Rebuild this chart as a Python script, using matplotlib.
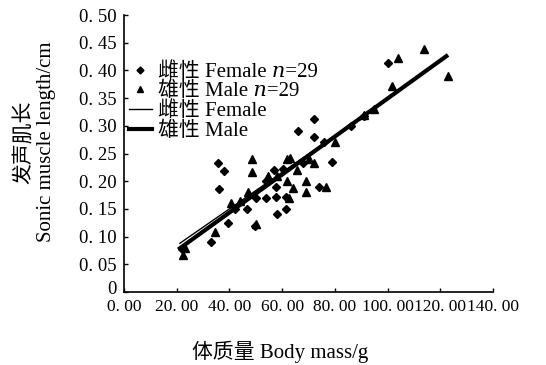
import matplotlib
matplotlib.use('Agg')
from matplotlib import pyplot as plt
from matplotlib.transforms import ScaledTranslation
import numpy as np

plt.rcParams['font.family'] = ['Liberation Serif', 'Noto Sans CJK SC', 'DejaVu Serif']

# body mass (g) and sonic muscle length (cm), females
female_mass = [100, 72, 66, 72, 75.8, 91, 79, 57, 60.2, 68,
               57.6, 57.6, 61.4, 61.4, 58, 74, 35.6, 38, 36, 54,
               54, 46.5, 39.4, 49.6, 33, 22, 42, 50, 86]
female_len = [0.413, 0.312, 0.290, 0.280, 0.270, 0.318, 0.235, 0.220, 0.222, 0.233,
              0.190, 0.171, 0.171, 0.150, 0.141, 0.190, 0.233, 0.218, 0.186, 0.200,
              0.170, 0.150, 0.125, 0.119, 0.090, 0.078, 0.150, 0.170, 0.300]

# males
male_mass = [114, 104, 123, 101.5, 48.5, 48.5, 54.5, 61.7, 65.5, 72,
             62, 64, 69, 69, 76.5, 62.5, 47, 40.5, 34.5, 22.3,
             50, 91, 63, 58, 44, 70, 80, 23, 95]
male_len = [0.438, 0.422, 0.390, 0.372, 0.240, 0.217, 0.210, 0.240, 0.220, 0.233,
            0.200, 0.188, 0.200, 0.180, 0.190, 0.170, 0.180, 0.160, 0.108, 0.067,
            0.122, 0.320, 0.241, 0.210, 0.165, 0.240, 0.270, 0.080, 0.330]

# linear fits: (slope, intercept) and mass range covered
female_fit = (0.0033, 0.018)
female_span = (21.2, 99.6)
male_fit = (0.00343, 0.0062)
male_span = (21.2, 122.3)

x_ticks = [0, 20, 40, 60, 80, 100, 120, 140]
y_ticks = [0, 0.05, 0.10, 0.15, 0.20, 0.25, 0.30, 0.35, 0.40, 0.45, 0.50]

W, H = 546, 365
fig = plt.figure(figsize=(W / 100, H / 100), dpi=100)
ax = fig.add_axes([124 / W, 73 / H, 369 / W, 277 / H])

ax.plot(female_mass, female_len, ls='none', marker='D', color='k', markersize=4.4,
        label='雌性 Female \U0001D45B=29')
ax.plot(male_mass, male_len, ls='none', marker='^', color='k', markersize=5.2,
        label='雄性 Male \U0001D45B=29')

xf = np.array(female_span)
ax.plot(xf, female_fit[0] * xf + female_fit[1], color='k', lw=1.0, label='雌性 Female')
xm = np.array(male_span)
ax.plot(xm, male_fit[0] * xm + male_fit[1], color='k', lw=3.0, label='雄性 Male')

ax.set_xlim(0, 140)
ax.set_ylim(0, 0.5)
ax.set_xticks(x_ticks)
ax.set_xticklabels([f'{v:.2f}'.replace('.', '. ') for v in x_ticks])
ax.set_yticks(y_ticks)
ax.set_yticklabels(['0'] + [f'{v:.2f}'.replace('.', '. ') for v in y_ticks[1:]])
ax.tick_params(direction='in', length=3, width=1, labelsize=12.5)
ax.tick_params(axis='x', pad=5)
ax.tick_params(axis='y', pad=5, labelsize=13.5)
for s in ['top', 'right']:
    ax.spines[s].set_visible(False)
for s in ['left', 'bottom']:
    ax.spines[s].set_linewidth(1.2)

# lift the "0" on the y axis so it sits above the x tick labels
zero = ax.get_yticklabels()[0]
zero.set_transform(zero.get_transform() + ScaledTranslation(0, 5 / 100, fig.dpi_scale_trans))

fig.text(280 / W, 1 - 352 / H, '体质量 Body mass/g', ha='center', va='center', fontsize=15)
fig.text(25 / W, 1 - 142 / H, '发声肌长', rotation=90, ha='center', va='center', fontsize=15)
fig.text(47 / W, 1 - 142 / H, 'Sonic muscle length/cm', rotation=90, ha='center', va='center',
         fontsize=15)

ax.legend(loc='upper left', bbox_to_anchor=(129 / W, 1 - 62 / H), bbox_transform=fig.transFigure,
          frameon=False, fontsize=15, handlelength=1.1, handletextpad=0.3, labelspacing=0.0,
          borderpad=0, borderaxespad=0, markerscale=0.8)

fig.savefig('out.png', dpi=100)
